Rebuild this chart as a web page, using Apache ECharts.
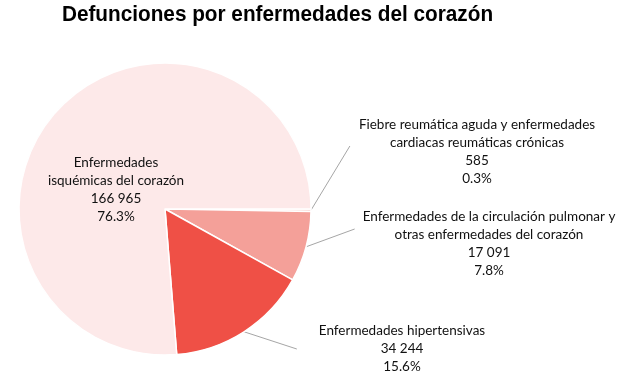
<!DOCTYPE html>
<html>
<head>
<meta charset="utf-8">
<script src="https://cdn.jsdelivr.net/npm/echarts@6/dist/echarts.min.js"></script>
<style>
html,body{margin:0;padding:0;background:#fff;}
#chart{width:627px;height:387px;}
</style>
</head>
<body>
<div id="chart"></div>
<script>
var titleText = 'Defunciones por enfermedades del corazón';
var categories = [
  'Fiebre reumática aguda y enfermedades\ncardiacas reumáticas crónicas',
  'Enfermedades de la circulación pulmonar y\notras enfermedades del corazón',
  'Enfermedades hipertensivas',
  'Enfermedades\nisquémicas del corazón'
];
var values = [585, 17091, 34244, 166965];
var colors = ['#f6c3be', '#f4a099', '#ef5046', '#fde9e9'];

// label placement (anchor = centre of text block) and leader-line end offsets
var labelPlaces = [
  {x: 477, y: 152, lineDy: -6, gap: 9, show: true},
  {x: 489, y: 244, lineDy: -15, gap: 8, show: true},
  {x: 402, y: 349, lineDy: 0, gap: 22, show: true},
  {x: 116, y: 190, lineDy: 0, gap: 0, show: false}
];

function fmtNum(v){
  return String(v).replace(/\B(?=(\d{3})+(?!\d))/g, ' ');
}

var chart = echarts.init(document.getElementById('chart'), null, {renderer:'canvas'});
chart.setOption({
  animation: false,
  backgroundColor: '#ffffff',
  graphic: [{
    type: 'text',
    x: 277.5,
    y: 4,
    scaleX: 0.943,
    style: {
      text: titleText,
      fill: '#000',
      font: 'bold 22px "Liberation Sans", Arial, sans-serif',
      textAlign: 'center',
      textVerticalAlign: 'top'
    }
  }],
  series: [{
    type: 'pie',
    center: [165, 209],
    radius: 146,
    startAngle: 0,
    clockwise: true,
    avoidLabelOverlap: false,
    itemStyle: {borderColor: '#ffffff', borderWidth: 1.5},
    label: {
      show: true,
      position: 'outside',
      fontFamily: 'Lato, sans-serif',
      fontSize: 13.5,
      lineHeight: 18,
      color: '#111',
      align: 'center',
      formatter: function(p){
        return p.name + '\n' + fmtNum(p.value) + '\n' + p.percent.toFixed(1) + '%';
      }
    },
    labelLine: {show: true, length: 20, length2: 10, lineStyle: {color: '#a6a6a6', width: 1}},
    labelLayout: function(params){
      var lp = labelPlaces[params.dataIndex];
      var w = params.labelRect.width;
      var res = {x: lp.x, y: lp.y, align: 'center', verticalAlign: 'middle'};
      if (lp.show && params.labelLinePoints) {
        var start = params.labelLinePoints[0];
        res.labelLinePoints = [start, [lp.x - w / 2 - lp.gap, lp.y + lp.lineDy]];
      }
      return res;
    },
    data: values.map(function(v, i){
      return {
        value: v,
        name: categories[i],
        itemStyle: {color: colors[i]},
        labelLine: {show: labelPlaces[i].show}
      };
    })
  }]
});
</script>
</body>
</html>
